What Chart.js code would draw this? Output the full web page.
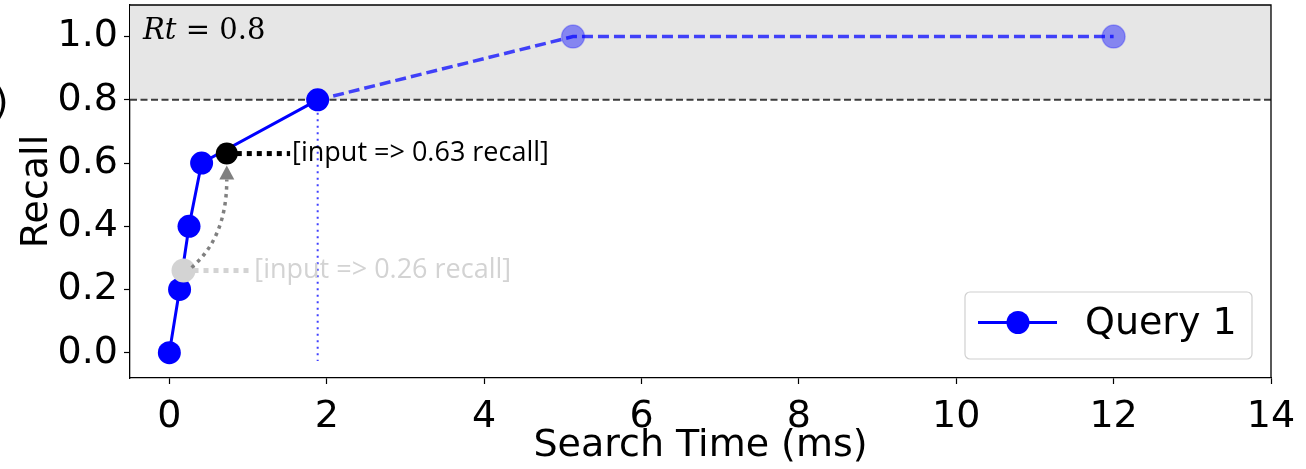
<!DOCTYPE html>
<html>
<head>
<meta charset="utf-8">
<script src="https://cdn.jsdelivr.net/npm/chart.js@4.4.1/dist/chart.umd.min.js"></script>
<style>
  html, body { margin: 0; padding: 0; background: #ffffff; }
  #wrap { width: 1306px; height: 469px; position: relative; }
</style>
</head>
<body>
<div id="wrap"><canvas id="chart" width="1306" height="469"></canvas></div>
<script>
// Recall-vs-search-time curve for a single query
const xTicks = [0, 2, 4, 6, 8, 10, 12, 14];
const yTicks = [0.0, 0.2, 0.4, 0.6, 0.8, 1.0];

// measured part of the curve (solid)
const solidTime   = [0, 0.13, 0.25, 0.41, 1.885];
const solidRecall = [0, 0.2, 0.4, 0.6, 0.8];

// extrapolated part beyond the target recall (dashed)
const dashedTime   = [1.885, 5.13, 12.0];
const dashedRecall = [0.8, 1.0, 1.0];

// recall target
const targetRecall = 0.8;
const targetLabel = 'Rt';

// two example inputs placed on the curve
const inputTimes   = [0.18, 0.73];
const inputRecalls = [0.26, 0.63];
const inputLabels  = ['[input => 0.26 recall]', '[input => 0.63 recall]'];
const inputLabelX  = [1.08, 1.56];

const seriesName = 'Query 1';
const xTitle = 'Search Time (ms)';
const yTitle = 'Recall';

const toPoints = (xs, ys) => xs.map((x, i) => ({ x: x, y: ys[i] }));

Chart.defaults.font.family = 'DejaVu Sans';
Chart.defaults.color = '#000000';

const BLUE = '#0000ff';

const decorations = {
  id: 'decorations',
  beforeDatasetsDraw(chart) {
    const { ctx, chartArea: a, scales: { x, y } } = chart;
    const yT = y.getPixelForValue(targetRecall);
    ctx.save();
    // shaded band above the target recall
    ctx.fillStyle = '#e6e6e6';
    ctx.fillRect(a.left, a.top, a.right - a.left, yT - a.top);
    // target recall line
    ctx.strokeStyle = '#3a3a3a';
    ctx.lineWidth = 2;
    ctx.setLineDash([7, 3.5]);
    ctx.beginPath();
    ctx.moveTo(a.left, yT);
    ctx.lineTo(a.right, yT);
    ctx.stroke();
    // vertical marker at the time where the target is reached
    const xT = x.getPixelForValue(solidTime[solidTime.length - 1]);
    ctx.strokeStyle = 'rgba(0,0,255,0.75)';
    ctx.lineWidth = 2;
    ctx.setLineDash([2, 4.5]);
    ctx.beginPath();
    ctx.moveTo(xT, yT);
    ctx.lineTo(xT, y.getPixelForValue(-0.026));
    ctx.stroke();
    // leader lines from the input points to their labels
    const leaderColors = ['#d3d3d3', '#000000'];
    ctx.lineWidth = 5;
    ctx.setLineDash([5, 5]);
    inputTimes.forEach((t, i) => {
      const px = x.getPixelForValue(t);
      const py = y.getPixelForValue(inputRecalls[i]);
      const ex = x.getPixelForValue(inputLabelX[i]) - 2;
      ctx.strokeStyle = leaderColors[i];
      ctx.beginPath();
      ctx.moveTo(px, py);
      ctx.lineTo(ex, py);
      ctx.stroke();
    });
    ctx.restore();
  },
  afterDatasetsDraw(chart) {
    const { ctx, chartArea: a, scales: { x, y } } = chart;
    ctx.save();
    // curved arrow from the first input to the second
    const gx = x.getPixelForValue(inputTimes[0]);
    const gy = y.getPixelForValue(inputRecalls[0]);
    const bx = x.getPixelForValue(inputTimes[1]);
    const by = y.getPixelForValue(inputRecalls[1]);
    const sx = gx + 8, sy = gy - 3;
    const tipY = by + 12;
    const baseY = tipY + 14;
    ctx.strokeStyle = '#808080';
    ctx.fillStyle = '#808080';
    ctx.lineWidth = 3.5;
    ctx.setLineDash([3.5, 4.5]);
    ctx.beginPath();
    ctx.moveTo(sx, sy);
    ctx.quadraticCurveTo(bx, sy - 30, bx, baseY);
    ctx.stroke();
    ctx.setLineDash([]);
    ctx.beginPath();
    ctx.moveTo(bx, tipY);
    ctx.lineTo(bx - 7.5, baseY);
    ctx.lineTo(bx + 7.5, baseY);
    ctx.closePath();
    ctx.fill();

    // input labels
    const labelColors = ['#d3d3d3', '#000000'];
    ctx.font = '27px "Open Sans"';
    ctx.textBaseline = 'middle';
    ctx.textAlign = 'left';
    inputLabels.forEach((txt, i) => {
      ctx.fillStyle = labelColors[i];
      ctx.fillText(txt, x.getPixelForValue(inputLabelX[i]), y.getPixelForValue(inputRecalls[i]));
    });

    // target recall annotation
    ctx.fillStyle = '#000000';
    ctx.textBaseline = 'alphabetic';
    ctx.font = 'italic 29px "DejaVu Serif"';
    const tx = a.left + 13, ty = a.top + 34;
    ctx.fillText(targetLabel, tx, ty);
    const w = ctx.measureText(targetLabel).width;
    ctx.font = '29px "DejaVu Serif"';
    ctx.fillText(' = ' + targetRecall.toFixed(1), tx + w, ty);
    ctx.restore();
  },
  afterDraw(chart) {
    const { ctx, chartArea: a } = chart;
    ctx.save();
    // top and right frame lines
    ctx.strokeStyle = '#000000';
    ctx.lineWidth = 1.3;
    ctx.beginPath();
    ctx.moveTo(a.left, a.top);
    ctx.lineTo(a.right, a.top);
    ctx.lineTo(a.right, a.bottom);
    ctx.stroke();

    // legend box in the lower right corner
    const bw = 287, bh = 67;
    const bxr = a.right - 19, byb = a.bottom - 19;
    const lx = bxr - bw, ly = byb - bh;
    ctx.beginPath();
    ctx.roundRect(lx, ly, bw, bh, 5);
    ctx.fillStyle = 'rgba(255,255,255,0.85)';
    ctx.fill();
    ctx.strokeStyle = '#d0d0d0';
    ctx.lineWidth = 1.2;
    ctx.stroke();
    const cy = ly + bh / 2 - 3;
    ctx.strokeStyle = BLUE;
    ctx.lineWidth = 3;
    ctx.beginPath();
    ctx.moveTo(lx + 13, cy);
    ctx.lineTo(lx + 92, cy);
    ctx.stroke();
    ctx.fillStyle = BLUE;
    ctx.beginPath();
    ctx.arc(lx + 53, cy, 11.5, 0, Math.PI * 2);
    ctx.fill();
    ctx.fillStyle = '#000000';
    ctx.font = '38px "DejaVu Sans"';
    ctx.textBaseline = 'middle';
    ctx.fillText(seriesName, lx + 120, cy + 2);

    // panel letter at the left edge
    ctx.font = '38px "DejaVu Sans"';
    ctx.textAlign = 'right';
    ctx.textBaseline = 'alphabetic';
    ctx.fillText('(b)', 8.5, 114);
    ctx.restore();
  }
};

new Chart(document.getElementById('chart'), {
  type: 'scatter',
  data: {
    datasets: [
      {
        label: 'input-high',
        data: [{ x: inputTimes[1], y: inputRecalls[1] }],
        pointRadius: 11,
        pointBackgroundColor: '#000000',
        pointBorderWidth: 0,
        order: 0
      },
      {
        label: 'input-low',
        data: [{ x: inputTimes[0], y: inputRecalls[0] }],
        pointRadius: 12,
        pointBackgroundColor: '#d3d3d3',
        pointBorderWidth: 0,
        order: 1
      },
      {
        label: seriesName,
        data: toPoints(solidTime, solidRecall),
        showLine: true,
        borderColor: BLUE,
        borderWidth: 3,
        pointRadius: 11.5,
        pointBackgroundColor: BLUE,
        pointBorderWidth: 0,
        order: 2
      },
      {
        label: 'extrapolated',
        data: toPoints(dashedTime, dashedRecall),
        showLine: true,
        borderColor: 'rgba(0,0,255,0.72)',
        borderWidth: 3.5,
        borderDash: [11, 5],
        pointRadius: dashedTime.map((_, i) => (i === 0 ? 0 : 11.5)),
        pointBackgroundColor: 'rgba(0,0,255,0.42)',
        pointBorderColor: 'rgba(0,0,255,0.25)',
        pointBorderWidth: 1.5,
        order: 3
      }
    ]
  },
  options: {
    responsive: false,
    animation: false,
    events: [],
    layout: { autoPadding: false, padding: { top: 5, right: 35, bottom: 0, left: 0 } },
    plugins: { legend: { display: false }, tooltip: { enabled: false } },
    scales: {
      x: {
        type: 'linear',
        min: -0.5,
        max: 14,
        afterBuildTicks: (s) => { s.ticks = xTicks.map(v => ({ value: v })); },
        afterFit: (s) => { s.height = 91; s.paddingLeft = 0; s.paddingRight = 0; },
        ticks: {
          font: { size: 38 },
          color: '#000000',
          padding: 10,
          maxRotation: 0,
          callback: (v) => String(v)
        },
        grid: { display: true, drawOnChartArea: false, drawTicks: true, tickLength: 6, tickWidth: 1.2, tickColor: '#000000' },
        border: { display: true, color: '#000000', width: 1.3 },
        title: { display: true, text: xTitle, font: { size: 38 }, color: '#000000', padding: { top: 0, bottom: 0 } }
      },
      y: {
        type: 'linear',
        min: -0.08,
        max: 1.1,
        afterBuildTicks: (s) => { s.ticks = yTicks.map(v => ({ value: v })); },
        afterFit: (s) => { s.width = 130; s.paddingTop = 0; s.paddingBottom = 0; },
        ticks: {
          font: { size: 38 },
          color: '#000000',
          padding: 6,
          callback: (v) => v.toFixed(1)
        },
        grid: { display: true, drawOnChartArea: false, drawTicks: true, tickLength: 6, tickWidth: 1.2, tickColor: '#000000' },
        border: { display: true, color: '#000000', width: 1.3 },
        title: { display: true, text: yTitle, font: { size: 38 }, color: '#000000', padding: { top: 14, bottom: 0 } }
      }
    }
  },
  plugins: [decorations]
});
</script>
</body>
</html>
